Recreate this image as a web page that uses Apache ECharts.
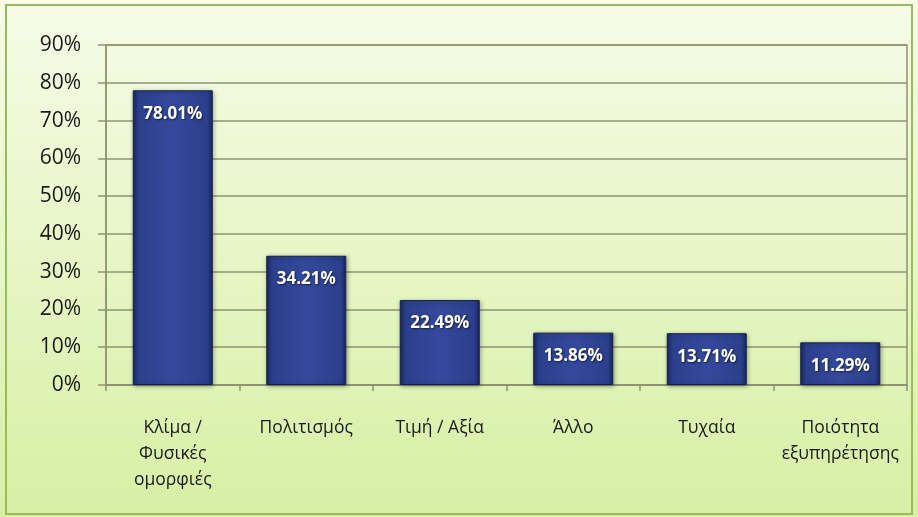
<!DOCTYPE html>
<html>
<head>
<meta charset="utf-8">
<script src="https://cdn.jsdelivr.net/npm/echarts@6/dist/echarts.min.js"></script>
<style>
  html, body { margin: 0; padding: 0; background: #ffffff; }
  #chart { width: 918px; height: 517px; }
</style>
</head>
<body>
<div id="chart"></div>
<script>
var categories = ['Κλίμα /\nΦυσικές\nομορφιές', 'Πολιτισμός', 'Τιμή / Αξία', 'Άλλο', 'Τυχαία', 'Ποιότητα\nεξυπηρέτησης'];
var values = [78.01, 34.21, 22.49, 13.86, 13.71, 11.29];
var yMax = 90;
var yStep = 10;

var chart = echarts.init(document.getElementById('chart'));

var barColor = new echarts.graphic.LinearGradient(0, 0, 1, 0, [
    {offset: 0, color: '#1a275f'},
    {offset: 0.07, color: '#2b3f8c'},
    {offset: 0.5, color: '#34499c'},
    {offset: 0.93, color: '#2b3f8c'},
    {offset: 1, color: '#1a275f'}
]);

var option = {
    backgroundColor: new echarts.graphic.LinearGradient(0, 0, 0, 1, [
        {offset: 0, color: '#f7fbe8'},
        {offset: 1, color: '#d6f0a4'}
    ]),
    graphic: [{
        type: 'rect',
        shape: {x: 6, y: 5, width: 906, height: 509},
        style: {fill: 'none', stroke: '#9bbb59', lineWidth: 2},
        silent: true
    }],
    grid: {
        left: 106, right: 11, top: 45, bottom: 132,
        show: true,
        borderColor: '#8e9470',
        borderWidth: 1.5
    },
    xAxis: {
        type: 'category',
        data: categories,
        axisLine: {lineStyle: {color: '#8e9470', width: 1.5}},
        axisTick: {show: true, length: 6, lineStyle: {color: '#8e9470', width: 1.5}},
        axisLabel: {
            color: '#1a1a1a',
            fontFamily: 'Open Sans',
            fontSize: 17.5,
            lineHeight: 26,
            margin: 30,
            interval: 0
        }
    },
    yAxis: {
        type: 'value',
        min: 0,
        max: yMax,
        interval: yStep,
        axisLine: {show: true, lineStyle: {color: '#8e9470', width: 1.5}},
        axisTick: {show: true, length: 8, lineStyle: {color: '#8e9470', width: 1.5}},
        splitLine: {lineStyle: {color: '#8e9470', width: 1.5}},
        axisLabel: {
            formatter: '{value}%',
            color: '#1a1a1a',
            fontFamily: 'Open Sans',
            fontSize: 21,
            margin: 25
        }
    },
    series: [{
        type: 'bar',
        data: values,
        barWidth: 80,
        itemStyle: {
            color: barColor,
            borderColor: '#15204f',
            borderWidth: 1,
            shadowColor: 'rgba(0,0,0,0.35)',
            shadowBlur: 4,
            shadowOffsetX: 1,
            shadowOffsetY: 1
        },
        label: {
            show: true,
            position: 'insideTop',
            distance: 15,
            color: '#ffffff',
            fontFamily: 'Open Sans',
            fontWeight: 'bold',
            fontSize: 17,
            textShadowColor: 'rgba(0,0,0,0.6)',
            textShadowBlur: 2,
            textShadowOffsetX: 1,
            textShadowOffsetY: 1,
            formatter: function (p) { return p.value.toFixed(2) + '%'; }
        }
    }]
};

chart.setOption(option);
</script>
</body>
</html>
